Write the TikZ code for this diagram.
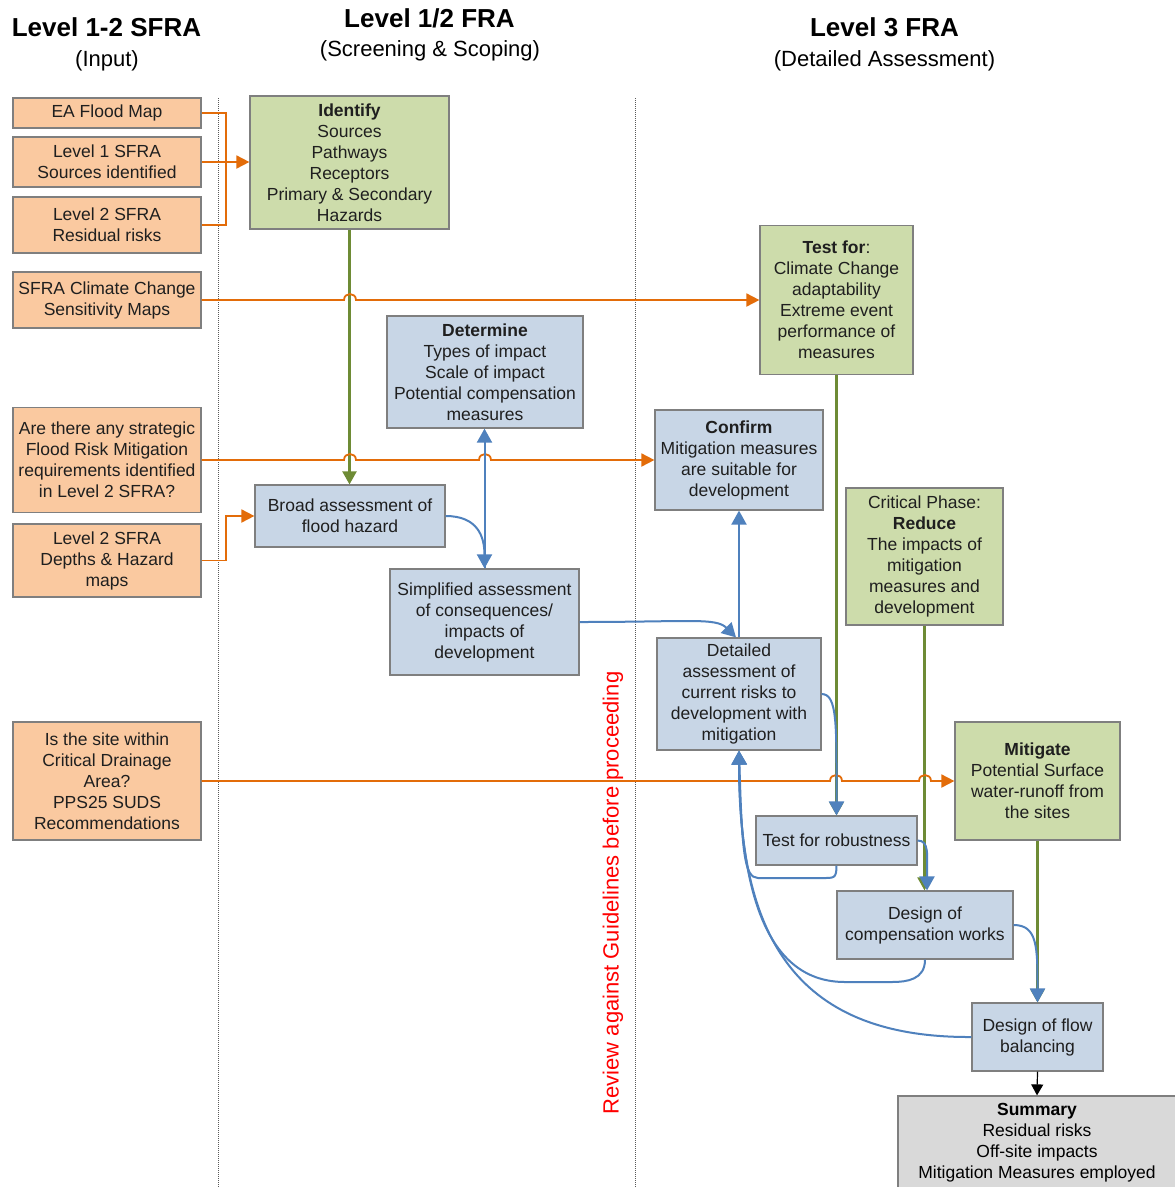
\documentclass[tikz,border=0pt]{standalone}
\usepackage{fontspec}
\setmainfont{Liberation Sans}
\usetikzlibrary{arrows.meta,calc}
\definecolor{cOfill}{HTML}{FAC9A0}
\definecolor{cGfill}{HTML}{CDDCAB}
\definecolor{cBfill}{HTML}{C8D6E6}
\definecolor{cSfill}{HTML}{D9D9D9}
\definecolor{cBorder}{HTML}{7F7F7F}
\definecolor{cOrange}{HTML}{E36C09}
\definecolor{cGreen}{HTML}{6E8B35}
\definecolor{cBlue}{HTML}{4F81BD}
\definecolor{cTxt}{HTML}{1F1F1F}
\definecolor{cDiv}{HTML}{595959}
\begin{document}
\begin{tikzpicture}[x=1pt,y=-1pt,
  box/.style={draw=cBorder, line width=1.2pt, inner sep=1pt, align=center, text=cTxt,
    font=\fontsize{17.5}{21}\selectfont},
  obox/.style={box, fill=cOfill, minimum width=188pt},
  gbox/.style={box, fill=cGfill},
  bbox/.style={box, fill=cBfill},
  sbox/.style={box, fill=cSfill, text=black},
  htitle/.style={font=\fontsize{26}{30}\selectfont\bfseries, text=black, inner sep=0pt},
  hsub/.style={font=\fontsize{22}{26}\selectfont, text=black, inner sep=0pt},
  divider/.style={draw=cDiv, line width=0.9pt, dash pattern=on 1pt off 1pt},
  oline/.style={draw=cOrange, line width=1.8pt},
  oarrow/.style={oline, -{Triangle[length=13pt,width=13pt]}},
  grnline/.style={draw=cGreen, line width=2.2pt},
  grnarrow/.style={grnline, -{Triangle[length=13pt,width=14pt]}},
  bline/.style={draw=cBlue, line width=2pt},
  barrow/.style={bline, -{Triangle[length=14pt,width=15pt]}},
  karrow/.style={draw=black, line width=1.2pt, -{Triangle[length=11pt,width=12pt]}}
]
\fill[white] (0,0) rectangle (1175,1187);
\path[use as bounding box] (0,0) rectangle (1175,1187);

% headers
\node[htitle] (h1) at (106.5,27) {Level 1-2 SFRA};
\node[hsub] (s1) at (107,61) {(Input)};
\node[htitle] (h2) at (429.5,18) {Level 1/2 FRA};
\node[hsub] (s2) at (430,51) {(Screening \& Scoping)};
\node[htitle] (h3) at (884.5,27) {Level 3 FRA};
\node[hsub] (s3) at (884.5,61) {(Detailed Assessment)};

% dividers
\draw[divider] (218,98) -- (218,1187);
\draw[divider] (635,98) -- (635,1187);

% review text
\node[rotate=90, text=red, font=\fontsize{22}{26}\selectfont, inner sep=0pt] (review) at (613,893) {Review against Guidelines before proceeding};

% input boxes
\node[obox, minimum height=30pt] (ea) at (107,113) {EA Flood Map};
\node[obox, minimum height=50pt] (l1) at (107,162) {Level 1 SFRA\\Sources identified};
\node[obox, minimum height=56pt] (l2) at (107,225) {Level 2 SFRA\\Residual risks};
\node[obox, minimum height=56pt] (cc) at (107,300) {SFRA Climate Change\\Sensitivity Maps};
\node[obox, minimum height=105pt] (strat) at (107,460) {Are there any strategic\\Flood Risk Mitigation\\requirements identified\\in Level 2 SFRA?};
\node[obox, minimum height=73pt] (depths) at (107,560.5) {Level 2 SFRA\\Depths \& Hazard\\maps};
\node[obox, minimum height=118pt] (cda) at (107,781) {Is the site within\\Critical Drainage\\Area?\\PPS25 SUDS\\Recommendations};

% green boxes
\node[gbox, minimum width=199pt, minimum height=133pt] (identify) at (349.5,162.5) {\textbf{Identify}\\Sources\\Pathways\\Receptors\\Primary \& Secondary\\Hazards};
\node[gbox, minimum width=153pt, minimum height=149pt] (testfor) at (836.5,300) {\textbf{Test for}:\\Climate Change\\adaptability\\Extreme event\\performance of\\measures};
\node[gbox, minimum width=157pt, minimum height=137pt] (critical) at (924.5,556.5) {Critical Phase:\\\textbf{Reduce}\\The impacts of\\mitigation\\measures and\\development};
\node[gbox, minimum width=165pt, minimum height=118pt] (mitigate) at (1037.5,781) {\textbf{Mitigate}\\Potential Surface\\water-runoff from\\the sites};

% blue boxes
\node[bbox, minimum width=196pt, minimum height=112pt] (determine) at (485,372) {\textbf{Determine}\\Types of impact\\Scale of impact\\Potential compensation\\measures};
\node[bbox, minimum width=168pt, minimum height=100pt] (confirm) at (739,460) {\textbf{Confirm}\\Mitigation measures\\are suitable for\\development};
\node[bbox, minimum width=190pt, minimum height=62pt] (broad) at (350,516) {Broad assessment of\\flood hazard};
\node[bbox, minimum width=189pt, minimum height=106pt] (simplified) at (484.5,622) {Simplified assessment\\of consequences/\\impacts of\\development};
\node[bbox, minimum width=164pt, minimum height=112pt] (detailed) at (739,694) {Detailed\\assessment of\\current risks to\\development with\\mitigation};
\node[bbox, minimum width=161pt, minimum height=49pt] (robust) at (836.5,840.5) {Test for robustness};
\node[bbox, minimum width=176pt, minimum height=68pt] (designcomp) at (925,925) {Design of\\compensation works};
\node[bbox, minimum width=131pt, minimum height=68pt] (flowbal) at (1037.5,1037) {Design of flow\\balancing};
\node[sbox, minimum width=278pt, minimum height=94pt] (summary) at (1037,1143) {\textbf{Summary}\\Residual risks\\Off-site impacts\\Mitigation Measures employed};

% green connectors
\draw[grnarrow] (identify.south) -- (identify.south |- broad.north);
\draw[grnarrow] (testfor.south) -- (testfor.south |- robust.north);
\draw[grnarrow] (critical.south) -- (critical.south |- designcomp.north);
\draw[grnarrow] (mitigate.south) -- (mitigate.south |- flowbal.north);

% orange connectors
\draw[oline] (ea.east) -- ++(24,0) |- (l2.east);
\draw[oarrow] (l1.east) -- (l1.east -| identify.west);
\draw[oarrow] (depths.east) -- ++(24,0) |- (broad.west);
\draw[oarrow] (cc.east) -- (344,300) .. controls (344,292) and (356,292) .. (356,300) -- (testfor.west);
\draw[oarrow] (strat.east) -- (344,460) .. controls (344,452) and (356,452) .. (356,460)
   -- (479,460) .. controls (479,452) and (491,452) .. (491,460) -- (confirm.west);
\draw[oarrow] (cda.east) -- (830,781) .. controls (830,773) and (842,773) .. (842,781)
   -- (919,781) .. controls (919,773) and (931,773) .. (931,781) -- (mitigate.west);

% blue connectors
\draw[barrow] (broad.east) .. controls +(32,0) and +(0,-32) .. (simplified.north);
\draw[barrow] (simplified.north) -- (simplified.north |- determine.south);
\draw[barrow] (simplified.east) .. controls +(110,0) and +(-20,-20) .. ($(detailed.north)+(-3,0)$);
\draw[barrow] (detailed.north) -- (detailed.north |- confirm.south);
\draw[barrow] (detailed.east) .. controls +(16,0) and +(0,-90) .. (robust.north);
\draw[barrow] (robust.east) .. controls +(12,0) and +(0,-35) .. ($(designcomp.north)+(2,0)$);
\draw[barrow] (designcomp.east) .. controls +(24,0) and +(0,-55) .. (flowbal.north);
\draw[barrow] (robust.south) .. controls +(0,13) and +(12,0) .. (822,878) -- (758,878)
   .. controls (744,878) and (742,850) .. (detailed.south);
\draw[barrow] (designcomp.south) .. controls +(0,20) and +(15,0) .. (892,982) -- (845,982)
   .. controls (770,982) and (740,900) .. (detailed.south);
\draw[barrow] (flowbal.west) .. controls (790,1038) and (739,930) .. (detailed.south);
\draw[karrow] (flowbal.south) -- (summary.north);
\end{tikzpicture}
\end{document}
